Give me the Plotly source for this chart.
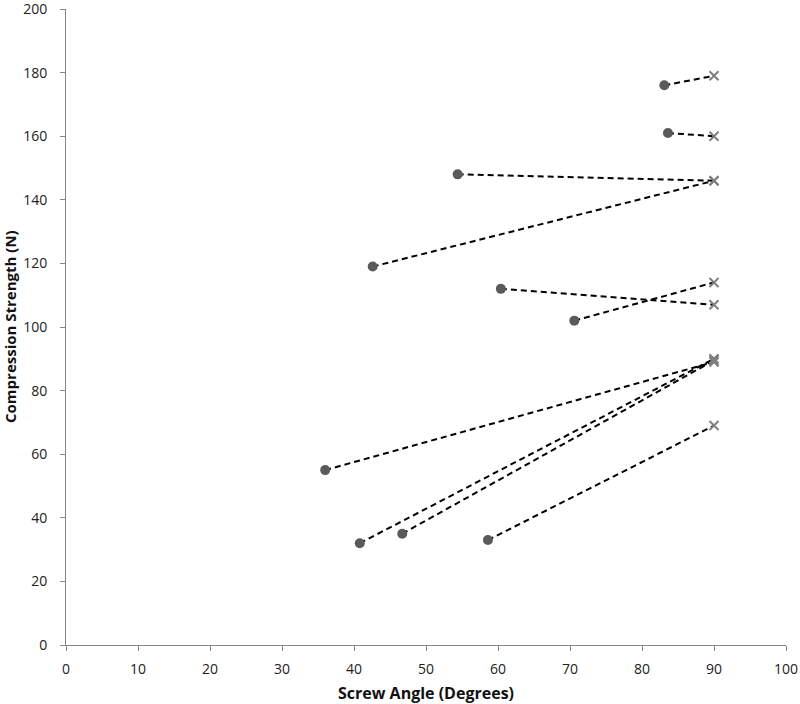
import plotly.graph_objects as go

# Data
screw_angle = [83.1, 83.6, 54.4, 42.6, 60.4, 70.6, 36.0, 40.8, 46.7, 58.6]
strength_angled = [176, 161, 148, 119, 112, 102, 55, 32, 35, 33]
angle_90 = [90, 90, 90, 90, 90, 90, 90, 90, 90, 90]
strength_90 = [179, 160, 146, 146, 107, 114, 89, 90, 89.5, 69]

x_ticks = [0, 10, 20, 30, 40, 50, 60, 70, 80, 90, 100]
y_ticks = [0, 20, 40, 60, 80, 100, 120, 140, 160, 180, 200]

x_title = "Screw Angle (Degrees)"
y_title = "Compression Strength (N)"

fig = go.Figure()

# Connecting dashed lines
lx, ly = [], []
for a, s, a9, s9 in zip(screw_angle, strength_angled, angle_90, strength_90):
    lx += [a, a9, None]
    ly += [s, s9, None]
fig.add_trace(go.Scatter(
    x=lx, y=ly, mode="lines",
    line=dict(color="black", width=2, dash="6px,4px"),
    hoverinfo="skip", showlegend=False))

fig.add_trace(go.Scatter(
    x=angle_90, y=strength_90, mode="markers",
    marker=dict(symbol="x-thin", size=9, line=dict(width=2, color="#7f7f7f")),
    showlegend=False))

fig.add_trace(go.Scatter(
    x=screw_angle, y=strength_angled, mode="markers",
    marker=dict(symbol="circle", size=10, color="#5a5a5a"),
    showlegend=False))

font_family = "Open Sans, Lato, sans-serif"
axis_common = dict(
    showgrid=False, zeroline=False, showline=True,
    linecolor="#868686", linewidth=1,
    ticks="outside", ticklen=5, tickcolor="#868686",
    tickfont=dict(family=font_family, size=14, color="#222"),
    automargin=False, ticklabeloverflow="allow",
)

fig.update_layout(
    width=800, height=704,
    margin=dict(l=66, r=14, t=9, b=59),
    paper_bgcolor="white", plot_bgcolor="white",
    xaxis=dict(range=[0, 100], tickvals=x_ticks, ticklabelstandoff=6, **axis_common),
    yaxis=dict(range=[0, 200], tickvals=y_ticks, ticklabelstandoff=10, **axis_common),
    annotations=[
        dict(text="<b>%s</b>" % x_title, xref="paper", yref="paper",
             x=0.5, y=0, yshift=-48, xanchor="center", yanchor="middle",
             showarrow=False, font=dict(family=font_family, size=16, color="#111")),
        dict(text="<b>%s</b>" % y_title, xref="paper", yref="paper",
             x=0, y=0.5, xshift=-56, xanchor="center", yanchor="middle", textangle=-90,
             showarrow=False, font=dict(family=font_family, size=15, color="#111")),
    ],
)

fig.write_html(
    "out.html",
    config={"displayModeBar": False},
    post_script="document.body.style.margin='0';document.body.style.overflow='hidden';",
)
